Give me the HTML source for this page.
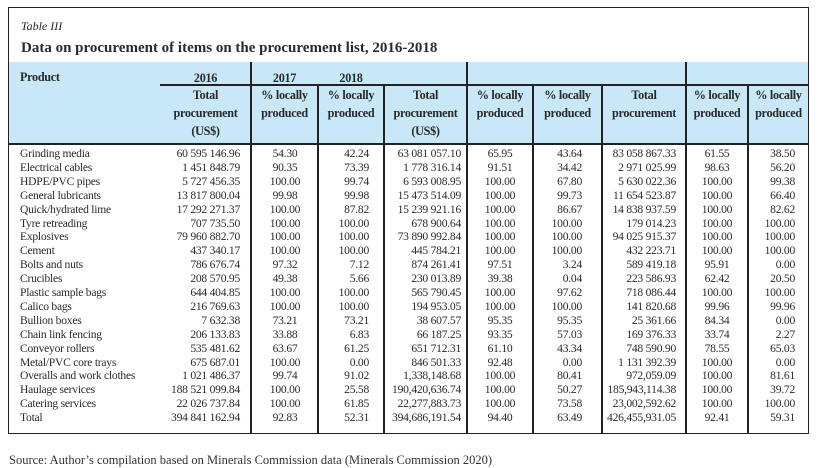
<!DOCTYPE html>
<html><head><meta charset="utf-8">
<style>
body{margin:0;width:821px;height:468px;background:#fff;overflow:hidden;font-family:"Liberation Serif",serif;color:#2a2a2a;}
.a{position:absolute;white-space:nowrap;}
.hl{position:absolute;background:#222;height:1.5px;}
.vl{position:absolute;background:#222;width:1.5px;}
.c{font-size:11.6px;line-height:13.9px;letter-spacing:-0.25px;}
.h{font-size:12.2px;font-weight:bold;line-height:18px;text-align:center;letter-spacing:-0.3px;}
</style></head>
<body>
<div id="frame" class="a" style="left:8px;top:7px;width:799px;height:425px;border:1.5px solid #222;"></div>
<div class="a" style="left:21px;top:19px;font-size:12px;font-style:italic;">Table III</div>
<div class="a" style="left:21px;top:40px;font-size:15px;font-weight:bold;">Data on procurement of items on the procurement list, 2016-2018</div>
<div class="a" style="left:9px;top:62px;width:799px;height:82px;background:#c8e8f8;"></div>
<div class="hl" style="left:9px;top:143px;width:799px;"></div>
<div class="hl" style="left:160px;top:84px;width:648px;"></div>
<div class="a h" style="left:20px;top:68px;text-align:left;">Product</div>
<div class="a h" style="left:160px;top:69px;width:91px;">2016</div>
<div class="a h" style="left:251px;top:69px;width:67px;">2017</div>
<div class="a h" style="left:318px;top:69px;width:66px;">2018</div>
<div id="hdr"></div>
<div id="body"></div>
<div class="a" style="left:9px;top:453px;font-size:12.5px;color:#333;">Source: Author’s compilation based on Minerals Commission data (Minerals Commission 2020)</div>
<script>
const products=["Grinding media","Electrical cables","HDPE/PVC pipes","General lubricants","Quick/hydrated lime","Tyre retreading","Explosives","Cement","Bolts and  nuts","Crucibles","Plastic sample bags","Calico bags","Bullion boxes","Chain link fencing","Conveyor rollers","Metal/PVC core trays","Overalls and  work clothes","Haulage services","Catering services","Total"];
const col1=["60 595 146.96","1 451 848.79","5 727 456.35","13 817 800.04","17 292 271.37","707 735.50","79 960 882.70","437 340.17","786 676.74","208 570.95","644 404.85","216 769.63","7 632.38","206 133.83","535 481.62","675 687.01","1 021 486.37","188 521 099.84","22 026 737.84","394 841 162.94"];
const col2=["54.30","90.35","100.00","99.98","100.00","100.00","100.00","100.00","97.32","49.38","100.00","100.00","73.21","33.88","63.67","100.00","99.74","100.00","100.00","92.83"];
const col3=["42.24","73.39","99.74","99.98","87.82","100.00","100.00","100.00","7.12","5.66","100.00","100.00","73.21","6.83","61.25","0.00","91.02","25.58","61.85","52.31"];
const col4=["63 081 057.10","1 778 316.14","6 593 008.95","15 473 514.09","15 239 921.16","678 900.64","73 890 992.84","445 784.21","874 261.41","230 013.89","565 790.45","194 953.05","38 607.57","66 187.25","651 712.31","846 501.33","1,338,148.68","190,420,636.74","22,277,883.73","394,686,191.54"];
const col5=["65.95","91.51","100.00","100.00","100.00","100.00","100.00","100.00","97.51","39.38","100.00","100.00","95.35","93.35","61.10","92.48","100.00","100.00","100.00","94.40"];
const col6=["43.64","34.42","67.80","99.73","86.67","100.00","100.00","100.00","3.24","0.04","97.62","100.00","95.35","57.03","43.34","0.00","80.41","50.27","73.58","63.49"];
const col7=["83 058 867.33","2 971 025.99","5 630 022.36","11 654 523.87","14 838 937.59","179 014.23","94 025 915.37","432 223.71","589 419.18","223 586.93","718 086.44","141 820.68","25 361.66","169 376.33","748 590.90","1 131 392.39","972,059.09","185,943,114.38","23,002,592.62","426,455,931.05"];
const col8=["61.55","98.63","100.00","100.00","100.00","100.00","100.00","100.00","95.91","62.42","100.00","99.96","84.34","33.74","78.55","100.00","100.00","100.00","100.00","92.41"];
const col9=["38.50","56.20","99.38","66.40","82.62","100.00","100.00","100.00","0.00","20.50","100.00","99.96","0.00","2.27","65.03","0.00","81.61","39.72","100.00","59.31"];
const cols=[col1,col2,col3,col4,col5,col6,col7,col8,col9];
const colNames=["total-2016","local-2017-a","local-2018-a","total-2017","local-2017-b","local-2018-b","total-2018","local-2017-c","local-2018-c"];
const bounds=[160,251,318,384,467,533,602,686,748,809];
const align=[["r",240],["c",285],["r",369],["r",461],["c",500],["r",582],["r",676],["c",717],["r",795]];
const hdrText=[["Total","procurement","(US$)"],["% locally","produced"],["% locally","produced"],["Total","procurement","(US$)"],["% locally","produced"],["% locally","produced"],["Total","procurement"],["% locally","produced"],["% locally","produced"]];
const hdr=document.getElementById('hdr');
const body=document.getElementById('body');
for(let i=1;i<bounds.length-1;i++){
  const v=document.createElement('div');
  v.className='vl';
  const full=(i===1||i===4||i===7);
  v.style.left=(bounds[i]-0.75)+'px';
  v.style.top=(full?62:84)+'px';
  v.style.height=(full?371:349)+'px';
  
  
  hdr.appendChild(v);
}
for(let j=0;j<9;j++){
  const d=document.createElement('div');
  d.className='a h';
  d.style.left=bounds[j]+'px';
  d.style.width=(bounds[j+1]-bounds[j])+'px';
  d.style.top='86px';
  d.innerHTML=hdrText[j].join('<br>');
  
  
  hdr.appendChild(d);
}
const y0=147, rh=13.9;
products.forEach((p,i)=>{
  const y=y0+i*rh;
  const d=document.createElement('div');
  d.className='a c';
  d.style.left='20px';d.style.top=y+'px';
  d.textContent=p;
  
  
  body.appendChild(d);
  for(let j=0;j<9;j++){
    const c=document.createElement('div');
    c.className='a c';
    c.style.top=y+'px';
    c.textContent=cols[j][i];
    if(align[j][0]==='r'){c.style.right=(821-align[j][1])+'px';}
    else{c.style.left=(align[j][1]-40)+'px';c.style.width='80px';c.style.textAlign='center';}
    
    
    body.appendChild(c);
  }
});
</script>
</body></html>
